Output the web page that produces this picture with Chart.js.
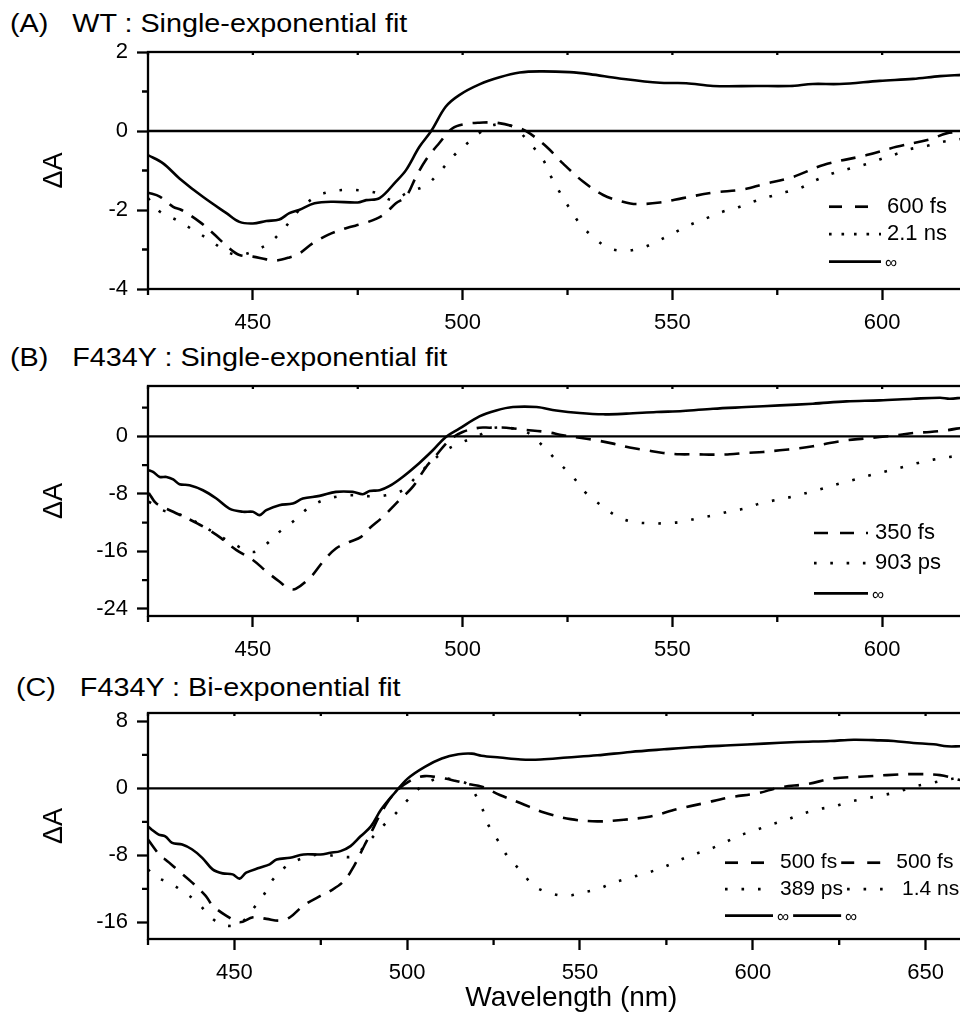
<!DOCTYPE html>
<html>
<head>
<meta charset="utf-8">
<script src="https://cdn.jsdelivr.net/npm/chart.js@4.4.1/dist/chart.umd.min.js"></script>
<style>
  body { margin: 0; background: #fff; }
  #page { position: relative; width: 960px; height: 1017px; overflow: hidden; background: #fff; }
  canvas { position: absolute; left: 0; }
  .ptitle {
    position: absolute; font-family: "Liberation Sans", Arial, sans-serif; font-size: 25px;
    line-height: 25px; white-space: pre; color: #000; transform: scaleX(1.15); transform-origin: left top;
  }
</style>
</head>
<body>
<div id="page">
  <div class="ptitle" style="left:10px;top:11px">(A)   WT : Single-exponential fit</div>
  <div class="ptitle" style="left:10px;top:345px">(B)   F434Y : Single-exponential fit</div>
  <div class="ptitle" style="left:16px;top:675px">(C)   F434Y : Bi-exponential fit</div>
  <canvas id="chartA" width="1010" height="335" style="top:0px"></canvas>
  <canvas id="chartB" width="1010" height="333" style="top:335px"></canvas>
  <canvas id="chartC" width="1010" height="349" style="top:668px"></canvas>
</div>
<script>
// ---- panel A : WT single-exponential ----
let aLabels = ["600 fs", "2.1 ns", "∞"];
let aDashX = [425, 427.8, 431, 433, 437.3, 440.5, 444.4, 446.8, 450, 453.2, 455.5, 458.7, 461.1, 464.3, 467.9, 472.2, 477, 481, 484.1, 486.5, 488.9, 491.3, 494.4, 497.6, 500.8, 504, 508, 513.6, 516, 520, 523.9, 528.7, 533.5, 538.2, 541.4, 547, 552.5, 559.7, 566.9, 571.6, 578.8, 586, 596.3, 603.4, 611.4, 615.3, 619];
let aDashY = [-1.56, -1.66, -1.92, -2.0, -2.3, -2.59, -2.97, -3.14, -3.18, -3.25, -3.28, -3.2, -3.1, -2.84, -2.63, -2.46, -2.32, -2.13, -1.83, -1.66, -1.16, -0.72, -0.31, 0.07, 0.18, 0.21, 0.21, 0.07, -0.06, -0.4, -0.82, -1.28, -1.62, -1.79, -1.85, -1.81, -1.7, -1.56, -1.48, -1.35, -1.16, -0.86, -0.61, -0.4, -0.21, -0.06, -0.02];
let aDotX = [425, 427.8, 431.7, 435.7, 439.7, 443.7, 446.8, 450.8, 454, 457.5, 460.7, 464.7, 468.3, 472.2, 476.2, 479.8, 483.3, 487, 491.3, 494.8, 498.4, 502, 504, 507.2, 512, 516, 519.2, 521.1, 523.1, 525.5, 527.9, 531.5, 535, 539, 543, 546.2, 550.2, 554.1, 558.1, 562.1, 565.7, 569.2, 573.2, 577.2, 580.4, 584.3, 588.3, 592.3, 596.3, 599.4, 603.4, 606.6, 610.6, 614.5, 619];
let aDotY = [-1.7, -2.04, -2.25, -2.5, -2.76, -3.05, -3.14, -3.01, -2.83, -2.46, -2.04, -1.68, -1.54, -1.49, -1.51, -1.58, -1.75, -1.55, -1.37, -1.0, -0.57, -0.23, -0.05, 0.15, 0.11, -0.31, -0.73, -1.16, -1.54, -1.96, -2.34, -2.72, -2.97, -3.03, -2.95, -2.8, -2.59, -2.38, -2.21, -2.04, -1.93, -1.79, -1.66, -1.54, -1.45, -1.24, -1.07, -0.95, -0.84, -0.72, -0.58, -0.46, -0.38, -0.27, -0.2];
let aSolidX = [425, 428.6, 432.5, 438, 443.7, 446.8, 450, 453.2, 456.3, 458.7, 461, 464.7, 469, 475, 477, 480.2, 484.1, 486.5, 489.7, 492.5, 496, 499.2, 504, 508.8, 513.6, 518.4, 525.5, 530.3, 537.4, 547, 553.3, 559.7, 570, 578, 583.5, 589.9, 599.4, 607.4, 613.8, 619];
let aSolidY = [-0.61, -0.82, -1.2, -1.66, -2.08, -2.3, -2.34, -2.28, -2.24, -2.08, -2.0, -1.83, -1.79, -1.81, -1.75, -1.7, -1.28, -0.99, -0.4, 0, 0.62, 0.91, 1.18, 1.36, 1.48, 1.51, 1.49, 1.44, 1.33, 1.22, 1.21, 1.14, 1.14, 1.14, 1.19, 1.19, 1.27, 1.32, 1.39, 1.42];
let aYMajor = [2, 0, -2, -4];
let aYMinor = [1, -1, -3];

// ---- panel B : F434Y single-exponential ----
let bLabels = ["350 fs", "903 ps", "∞"];
let bDashX = [425.2, 427, 431, 434.9, 438.9, 442.5, 446, 450, 453.2, 456.3, 458.7, 460.3, 463.9, 466.7, 469.8, 473, 475.8, 477.8, 481, 484.9, 488.1, 491.3, 493.7, 496.8, 500, 504, 506.4, 510.4, 514.4, 520, 523.9, 527.9, 531.9, 535.9, 539.8, 543.8, 547.8, 551.7, 555.7, 559.7, 563.7, 567.6, 571.6, 575.6, 579.6, 583.5, 587.5, 591.5, 595.5, 599.4, 603.4, 607.4, 611.4, 615.3, 619];
let bDashY = [-7.87, -9.35, -10.5, -11.57, -12.82, -14.2, -15.8, -17.2, -18.8, -20.2, -21.2, -21.2, -19.5, -17.45, -15.6, -14.7, -14.0, -12.8, -11.2, -8.9, -7.04, -4.26, -2.64, -0.56, 0.6, 1.2, 1.2, 1.2, 0.93, 0.6, 0.14, -0.19, -0.56, -1.02, -1.57, -1.94, -2.31, -2.5, -2.5, -2.55, -2.5, -2.31, -2.18, -1.94, -1.71, -1.39, -0.93, -0.56, -0.32, -0.09, 0.14, 0.46, 0.6, 0.83, 1.2];
let bDotX = [425.2, 428.6, 431.7, 435.7, 440.5, 445.2, 450, 453.2, 456.3, 459.9, 462.7, 466.7, 470.6, 473.8, 477.8, 481.7, 485.7, 488.9, 492.1, 496, 500, 504, 506.4, 510.4, 515.2, 519.2, 522.7, 526.3, 529.5, 533.5, 537, 540.6, 544.6, 548.2, 552.1, 556.1, 559.7, 563.3, 567.2, 570.8, 574.4, 578.4, 582.4, 585.9, 589.9, 593.5, 597.1, 601, 605, 608.6, 612.2, 616.1, 619];
let bDotY = [-9.1, -10.3, -10.7, -11.7, -13.3, -14.9, -16.1, -15.0, -13.3, -11.7, -10.2, -8.9, -8.33, -8.2, -8.33, -8.2, -7.5, -5.65, -3.8, -1.94, -0.79, 0.14, 1.06, 1.2, 0.6, -1.39, -3.56, -5.65, -7.96, -9.8, -11.2, -11.9, -12.1, -12.1, -11.9, -11.4, -11.0, -10.5, -10.05, -9.35, -8.9, -8.43, -7.82, -7.27, -6.57, -6.02, -5.42, -4.86, -4.26, -3.7, -3.24, -2.87, -2.64];
let bSolidX = [425.2, 426.2, 427.8, 429.4, 431, 432.5, 434.9, 438.1, 441.3, 444.4, 447.6, 450, 451.6, 453.2, 456.3, 459.5, 461.9, 465.9, 469.8, 473.8, 476.2, 477.8, 480.2, 482.5, 485.7, 489.7, 492.9, 496, 499.2, 504, 508, 512, 517.6, 522.3, 527.9, 533.5, 539, 546.2, 552.5, 559.7, 567.6, 575.6, 583.5, 591.5, 599.4, 607.4, 613.8, 616.1, 619];
let bSolidY = [-4.72, -4.95, -5.65, -5.65, -6.0, -6.67, -6.8, -7.5, -8.66, -10.05, -10.5, -10.5, -10.97, -10.28, -9.58, -9.35, -8.66, -8.29, -7.73, -7.73, -8.06, -7.6, -7.5, -6.94, -5.65, -3.7, -1.94, -0.09, 1.06, 2.78, 3.6, 4.07, 4.07, 3.6, 3.24, 3.06, 3.15, 3.38, 3.52, 3.84, 4.07, 4.3, 4.54, 4.86, 5.0, 5.23, 5.37, 5.23, 5.37];
let bYMajor = [0, -8, -16, -24];
let bYMinor = [4, -4, -12, -20];

// ---- panel C : F434Y bi-exponential ----
let cLabels = ["500 fs", "389 ps", "∞"];
let cLabels2 = ["500 fs", "1.4 ns", "∞"];
let cDashX = [425, 429, 430, 433.9, 437.8, 441.7, 443.7, 447.6, 451.5, 455.4, 459.3, 463.2, 466.1, 470, 474.9, 477.8, 481.7, 484.6, 487.5, 489.5, 492.4, 496.3, 501.2, 505.1, 509, 513.8, 517.7, 521.6, 526.8, 532.9, 539.6, 547.3, 555, 562.7, 570.4, 578.1, 585.8, 593.5, 601.3, 608, 615.7, 623.4, 631.1, 638.8, 646.5, 654.2, 660];
let cDashY = [-6.13, -8.3, -8.5, -9.88, -11.26, -12.85, -14.0, -15.2, -16.0, -15.4, -15.6, -15.8, -15.4, -14.0, -12.85, -12.25, -11.07, -9.29, -6.92, -5.34, -2.96, -0.59, 0.99, 1.46, 1.3, 0.91, 0.51, 0.2, -0.79, -1.78, -2.89, -3.68, -3.95, -3.75, -3.36, -2.49, -1.78, -1.07, -0.59, 0.12, 0.51, 1.19, 1.38, 1.58, 1.7, 1.58, 0.99];
let cDotX = [425, 427.1, 431, 434.9, 439.3, 443.7, 447.6, 451.5, 455.4, 458.3, 461.2, 465.1, 470, 474.9, 479.7, 484.6, 488.5, 492.4, 496.3, 499.7, 504.1, 509, 513.8, 517.7, 521.5, 523.2, 526.1, 529, 532.9, 536.7, 541.5, 546.3, 550.7, 555, 559.8, 564.6, 569.5, 573.8, 578.1, 582.9, 587.3, 591.6, 596.4, 600.8, 605.1, 609.9, 614.3, 619.1, 623.4, 628.2, 633, 637.9, 642.2, 646.5, 651.3, 655.7, 660];
let cDotY = [-9.68, -10.55, -11.26, -12.25, -13.64, -15.6, -16.4, -16.2, -14.4, -12.85, -10.87, -9.29, -8.3, -7.9, -8.1, -8.1, -6.52, -4.74, -3.16, -1.58, 0.2, 1.19, 0.99, 0.4, -2.2, -4.15, -6.13, -8.1, -9.88, -11.66, -12.53, -12.85, -12.45, -12.06, -11.26, -10.67, -10.08, -9.49, -8.7, -7.9, -7.31, -6.52, -5.6, -5.0, -4.35, -3.75, -3.04, -2.49, -2.17, -1.58, -1.19, -0.79, -0.4, 0.2, 0.59, 0.99, 1.3];
let cSolidX = [425, 426.1, 428.1, 430, 432, 434.9, 437.8, 440.7, 443.7, 446.6, 449.5, 451.5, 453.4, 457.3, 460.2, 462.2, 466.1, 470, 474.9, 477.8, 480.7, 483.6, 486.5, 489.5, 492.4, 496.3, 500.2, 505.1, 510, 514.8, 518.7, 521.5, 526.8, 532.9, 538.6, 546.3, 555, 564.6, 574.3, 583.9, 593.5, 603.2, 612.8, 622.4, 629.2, 636.9, 640.8, 646.5, 652.3, 656.2, 660];
let cSolidY = [-4.55, -4.94, -5.53, -5.73, -6.52, -6.72, -7.31, -8.3, -9.68, -10.16, -10.28, -10.79, -10.08, -9.49, -9.09, -8.5, -8.3, -7.9, -7.9, -7.7, -7.5, -6.9, -5.73, -4.55, -2.57, -0.59, 1.19, 2.57, 3.56, 4.07, 4.15, 3.9, 3.68, 3.44, 3.44, 3.68, 3.95, 4.35, 4.66, 4.94, 5.14, 5.34, 5.53, 5.65, 5.81, 5.73, 5.65, 5.42, 5.26, 5.02, 5.02];
let cYMajor = [8, 0, -8, -16];
let cYMinor = [4, -4, -12];

// x ticks (nm)
let xMajorAB = [450, 500, 550, 600];
let xMajorC = [450, 500, 550, 600, 650];
let xMinor = [425, 475, 525, 575, 625];

const FONT = '"Liberation Sans", Arial, sans-serif';
Chart.defaults.font.family = FONT;
Chart.defaults.color = "#000";

const DASH = [15, 10];
const DOT = [2.6, 14];

function pts(xs, ys) {
  return xs.map((x, i) => ({ x: x, y: ys[i] }));
}

// box, zero line, minor ticks
const framePlugin = {
  id: "frame",
  beforeDatasetsDraw(chart) {
    const { ctx, chartArea: a, scales } = chart;
    const y0 = scales.y.getPixelForValue(0);
    ctx.save();
    ctx.strokeStyle = "#000";
    ctx.lineWidth = 2.3;
    ctx.beginPath();
    ctx.moveTo(a.left, y0);
    ctx.lineTo(a.right, y0);
    ctx.stroke();
    ctx.restore();
  },
  afterDraw(chart, args, opts) {
    const { ctx, chartArea: a, scales } = chart;
    ctx.save();
    ctx.strokeStyle = "#000";
    ctx.lineWidth = 2.3;
    ctx.strokeRect(a.left, a.top, a.right - a.left, a.bottom - a.top);
    ctx.beginPath();
    opts.xMinor.forEach((v) => {
      const px = scales.x.getPixelForValue(v);
      ctx.moveTo(px, a.bottom);
      ctx.lineTo(px, a.bottom + 6);
    });
    opts.xMinor.concat(opts.xMajor).forEach((v) => {
      const px = scales.x.getPixelForValue(v);
      ctx.moveTo(px, a.top);
      ctx.lineTo(px, a.top + 3);
    });
    opts.yMinor.forEach((v) => {
      const py = scales.y.getPixelForValue(v);
      ctx.moveTo(a.left - 6, py);
      ctx.lineTo(a.left, py);
    });
    ctx.stroke();
    ctx.restore();
  },
};

// legend drawn inside the plot area
const legendPlugin = {
  id: "specLegend",
  afterDraw(chart, args, opts) {
    const { ctx, chartArea: a } = chart;
    ctx.save();
    ctx.fillStyle = "#000";
    ctx.strokeStyle = "#000";
    ctx.textBaseline = "middle";
    chart.data.datasets.forEach((ds, i) => {
      const y = a.top + opts.top + i * opts.rowGap;
      let x = a.left + opts.left;
      const labs = [ds.label];
      if (opts.second) labs.push(opts.second[i]);
      labs.forEach((lab) => {
        ctx.lineWidth = 2.7;
        ctx.setLineDash(opts.dash[i]);
        ctx.beginPath();
        ctx.moveTo(x, y);
        ctx.lineTo(x + opts.sample, y);
        ctx.stroke();
        ctx.setLineDash([]);
        const inf = lab === "∞";
        ctx.font = (inf ? 17 : opts.fontSize) + "px " + FONT;
        const tx = x + opts.sample + (inf ? 4 : opts.textGap);
        ctx.fillText(lab, tx, y + (inf ? 2 : 0));
        x = tx + ctx.measureText(lab).width + 4;
      });
    });
    ctx.restore();
  },
};

function makeChart(id, cfg) {
  const datasets = [
    { label: cfg.labels[0], data: pts(cfg.dash[0], cfg.dash[1]), borderDash: DASH },
    { label: cfg.labels[1], data: pts(cfg.dot[0], cfg.dot[1]), borderDash: DOT },
    { label: cfg.labels[2], data: pts(cfg.solid[0], cfg.solid[1]), borderDash: [] },
  ].map((d) => Object.assign(d, {
    borderColor: "#000", borderWidth: 2.6, pointRadius: 0, tension: 0.35, fill: false,
  }));

  return new Chart(document.getElementById(id), {
    type: "line",
    data: { datasets: datasets },
    plugins: [framePlugin, legendPlugin],
    options: {
      responsive: false,
      animation: false,
      devicePixelRatio: 1,
      layout: { padding: { top: cfg.padTop, right: cfg.padRight, left: 0, bottom: 0 } },
      plugins: {
        legend: { display: false },
        tooltip: { enabled: false },
        frame: { xMinor: xMinor, xMajor: cfg.xMajor, yMinor: cfg.yMinor },
        specLegend: cfg.legend,
      },
      scales: {
        x: {
          type: "linear",
          min: 425,
          max: cfg.xMax,
          afterBuildTicks: (s) => { s.ticks = cfg.xMajor.map((v) => ({ value: v })); },
          afterFit: (s) => { s.height = cfg.xHeight; },
          grid: { drawOnChartArea: false, tickLength: 11, tickWidth: 2.3, tickColor: "#000" },
          border: { display: false },
          ticks: { padding: 10, font: { size: 22 }, color: "#000", maxRotation: 0, autoSkip: false, callback: (v) => String(v) },
          title: cfg.xTitle
            ? { display: true, text: "Wavelength (nm)", font: { size: 28 }, color: "#000", padding: { top: 0, bottom: 2 } }
            : { display: false },
        },
        y: {
          min: cfg.yMin,
          max: cfg.yMax,
          afterBuildTicks: (s) => { s.ticks = cfg.yMajor.map((v) => ({ value: v })); },
          afterFit: (s) => { s.width = 148; },
          grid: { drawOnChartArea: false, tickLength: 11, tickWidth: 2.3, tickColor: "#000" },
          border: { display: false },
          ticks: { padding: 9, font: { size: 22 }, color: "#000", callback: (v) => String(v) },
          title: { display: true, text: "ΔA", font: { size: 27 }, color: "#000", padding: { top: 38, bottom: 0 } },
        },
      },
    },
  });
}

makeChart("chartA", {
  labels: aLabels,
  dash: [aDashX, aDashY], dot: [aDotX, aDotY], solid: [aSolidX, aSolidY],
  xMax: 630, xMajor: xMajorAB, yMin: -4, yMax: 2, yMajor: aYMajor, yMinor: aYMinor,
  padTop: 52, padRight: 2, xHeight: 46, xTitle: false,
  legend: { left: 681, top: 154.7, rowGap: 27.5, sample: 52, textGap: 6, fontSize: 22, dash: [[13, 13], [2.6, 9.9], []] },
});

makeChart("chartB", {
  labels: bLabels,
  dash: [bDashX, bDashY], dot: [bDotX, bDotY], solid: [bSolidX, bSolidY],
  xMax: 630, xMajor: xMajorAB, yMin: -25, yMax: 7, yMajor: bYMajor, yMinor: bYMinor,
  padTop: 51, padRight: 2, xHeight: 52, xTitle: false,
  legend: { left: 666, top: 147, rowGap: 30.2, sample: 54, textGap: 7, fontSize: 22, dash: [[14, 12], [2.6, 13.7], []] },
});

makeChart("chartC", {
  labels: cLabels,
  dash: [cDashX, cDashY], dot: [cDotX, cDotY], solid: [cSolidX, cSolidY],
  xMax: 670, xMajor: xMajorC, yMin: -18, yMax: 9, yMajor: cYMajor, yMinor: cYMinor,
  padTop: 45, padRight: 15.3, xHeight: 78, xTitle: true,
  legend: { left: 577, top: 149.7, rowGap: 26.5, sample: 48, textGap: 7, fontSize: 21, dash: [[13, 13], [2.6, 13.9], []], second: cLabels2 },
});
</script>
</body>
</html>
